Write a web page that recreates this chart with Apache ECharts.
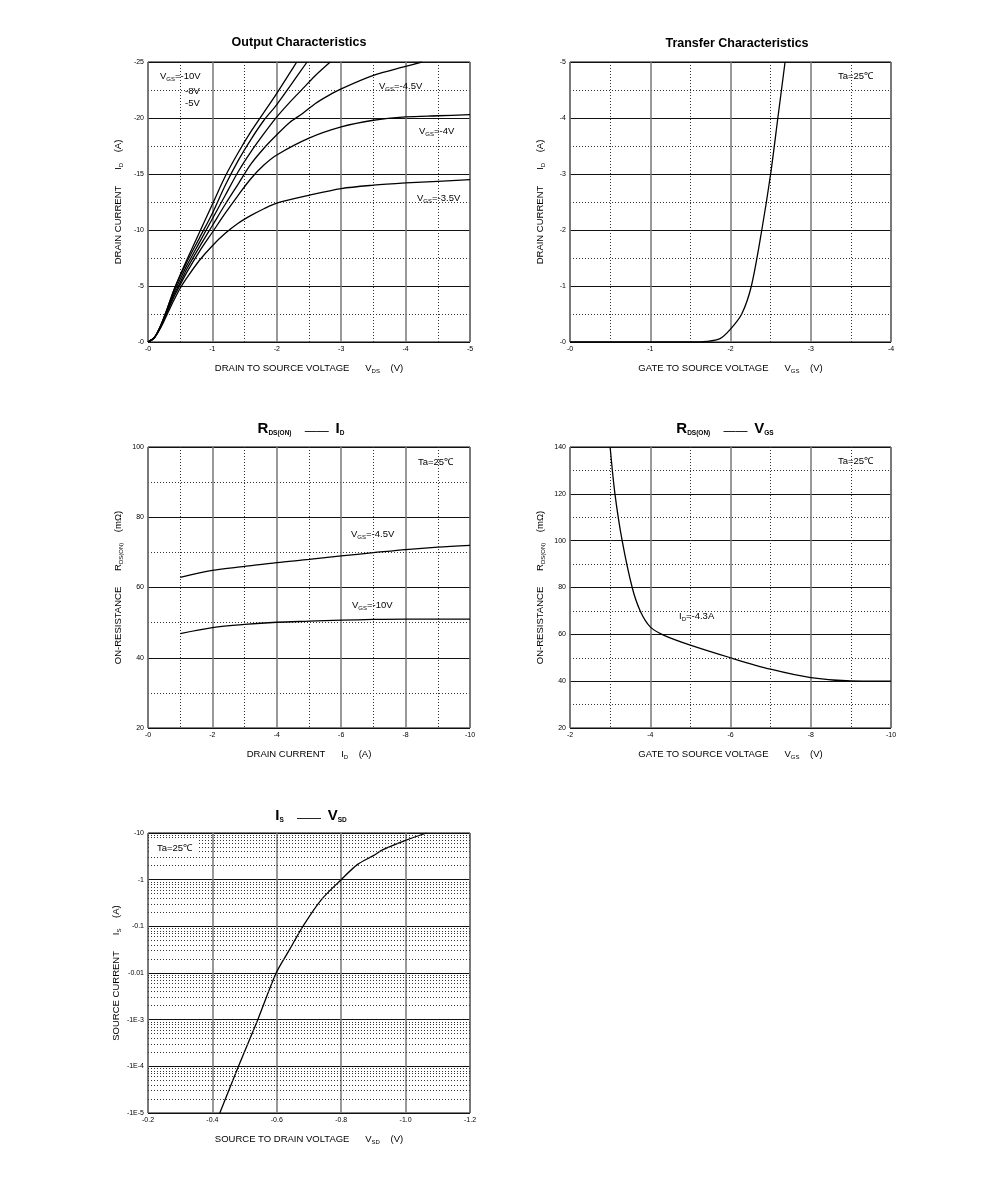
<!DOCTYPE html>
<html>
<head>
<meta charset="utf-8">
<title>MOSFET characteristics</title>
<script src="https://cdn.jsdelivr.net/npm/echarts@6/dist/echarts.min.js"></script>
<style>html,body{margin:0;background:#fff}</style>
</head>
<body>
<div id="main" style="width:991px;height:1186px"></div>
<script>
// output characteristics (Id vs Vds), one pair of arrays per Vgs curve
var vds10 = [0, -0.1, -0.2, -0.3, -0.4, -0.5, -0.6, -0.8, -1.0, -1.2, -1.4, -1.6, -1.8, -2.0, -2.2, -2.31];
var id10  = [0, -0.4, -1.5, -3.0, -4.6, -6.0, -7.3, -9.8, -12.3, -14.8, -16.9, -18.8, -20.5, -22.2, -24.0, -25];
var vds8  = [0, -0.1, -0.2, -0.3, -0.4, -0.5, -0.6, -0.8, -1.0, -1.2, -1.4, -1.6, -1.8, -2.0, -2.2, -2.47];
var id8   = [0, -0.4, -1.5, -3.0, -4.6, -5.9, -7.1, -9.3, -11.5, -14.0, -16.2, -18.1, -19.8, -21.2, -22.8, -25];
var vds5  = [0, -0.1, -0.2, -0.3, -0.4, -0.5, -0.6, -0.8, -1.0, -1.2, -1.4, -1.6, -1.8, -2.0, -2.2, -2.4, -2.6, -2.83];
var id5   = [0, -0.4, -1.5, -2.9, -4.4, -5.6, -6.8, -8.9, -11.0, -13.1, -15.2, -17.0, -18.6, -20.1, -21.4, -22.6, -23.8, -25];
var vds45 = [0, -0.1, -0.2, -0.3, -0.4, -0.5, -0.6, -0.8, -1.0, -1.2, -1.4, -1.6, -1.8, -2.0, -2.2, -2.4, -2.6, -2.8, -3.0, -3.5, -4.0, -4.25];
var id45  = [0, -0.4, -1.4, -2.8, -4.2, -5.3, -6.5, -8.5, -10.4, -12.3, -14.1, -15.9, -17.3, -18.5, -19.6, -20.4, -21.3, -22.0, -22.6, -23.8, -24.6, -25];
var vds4  = [0, -0.1, -0.2, -0.3, -0.4, -0.5, -0.6, -0.8, -1.0, -1.2, -1.4, -1.6, -1.8, -2.0, -2.5, -3.0, -3.5, -4.0, -4.5, -5.0];
var id4   = [0, -0.4, -1.4, -2.7, -4.0, -5.1, -6.2, -8.1, -9.8, -11.5, -13.1, -14.6, -15.8, -16.7, -18.2, -19.2, -19.8, -20.1, -20.2, -20.3];
var vds35 = [0, -0.1, -0.2, -0.3, -0.4, -0.5, -0.6, -0.8, -1.0, -1.2, -1.4, -1.6, -1.8, -2.0, -2.5, -3.0, -3.5, -4.0, -4.5, -5.0];
var id35  = [0, -0.4, -1.3, -2.5, -3.7, -4.8, -5.7, -7.3, -8.6, -9.7, -10.6, -11.3, -11.9, -12.4, -13.1, -13.7, -14.0, -14.2, -14.35, -14.5];

// transfer characteristics (Id vs Vgs)
var vgsT = [0, -1.0, -1.5, -1.7, -1.87, -2.0, -2.14, -2.26, -2.39, -2.5, -2.59, -2.68];
var idT  = [0, 0, 0, -0.01, -0.06, -0.23, -0.5, -1.0, -2.0, -3.0, -4.0, -5.0];

// on-resistance vs drain current
var idR = [-1, -2, -3, -4, -5, -6, -7, -8, -9, -10];
var r45 = [62.9, 64.9, 66.0, 67.1, 68.0, 69.0, 69.9, 70.8, 71.5, 72.0];
var r10 = [46.9, 48.6, 49.5, 50.1, 50.4, 50.7, 50.9, 51.0, 51.0, 51.0];

// on-resistance vs gate voltage
var vgsR = [-3.0, -3.12, -3.3, -3.55, -3.75, -4.0, -4.33, -5, -6, -7, -8, -9, -10];
var rV   = [140, 120, 100, 80, 70, 63.2, 59.7, 55.4, 50, 45.1, 41.5, 40.1, 40];

// body diode: |Is| on a log axis vs Vsd
var vsd   = [-0.423, -0.481, -0.541, -0.598, -0.64, -0.681, -0.738, -0.80, -0.85, -0.90, -0.93, -1.0, -1.065];
var isMag = [1e-5, 1e-4, 1e-3, 1e-2, 0.032, 0.1, 0.37, 1.0, 2.1, 3.27, 4.4, 6.96, 10];
var isLabels = ['-1E-5', '-1E-4', '-1E-3', '-0.01', '-0.1', '-1', '-10'];

var FONT = '"Liberation Sans", Arial, sans-serif';

function zip(xs, ys) {
  return xs.map(function (x, i) { return [x, ys[i]]; });
}

var rich = {
  n:  {fontSize: 9.5, fontFamily: FONT, color: '#000', fill: '#000'},
  s:  {fontSize: 6, fontFamily: FONT, color: '#000', fill: '#000', padding: [6, 0, 0, 0]},
  b:  {fontSize: 15, fontFamily: FONT, fontWeight: 'bold', color: '#000', fill: '#000'},
  bs: {fontSize: 6.5, fontFamily: FONT, fontWeight: 'bold', color: '#000', fill: '#000', padding: [9, 0, 0, 0]},
  d:  {fontSize: 12, fontFamily: FONT, color: '#000', fill: '#000', padding: [5, 0, 0, 0]}
};

function minusZero(v) { return v === 0 ? '-0' : String(v); }

function axis(grid, isX, min, max, step, fmt, name, gap, extra) {
  var a = {
    gridIndex: grid, type: 'value', min: min, max: max, interval: step,
    inverse: true,
    name: name, nameLocation: 'middle', nameGap: gap,
    nameRotate: isX ? 0 : 90,
    nameTextStyle: {rich: rich, fontSize: 9.5, fontFamily: FONT, color: '#000'},
    axisLine: {show: false},
    axisTick: {show: false},
    axisLabel: {formatter: fmt, fontSize: 7, fontFamily: FONT, color: '#000', margin: 4},
    splitLine: {show: true, lineStyle: isX ? {color: '#777', width: 1.5} : {color: '#111', width: 1}},
    minorTick: {show: false, splitNumber: 2},
    minorSplitLine: {show: true, lineStyle: {color: '#333', width: 1, type: [1, 2]}}
  };
  return Object.assign(a, extra || {});
}

function curve(xi, x, y) {
  return {
    type: 'line', xAxisIndex: xi, yAxisIndex: xi,
    data: zip(x, y), showSymbol: false, smooth: 0.3, silent: true,
    lineStyle: {color: '#000', width: 1.3}
  };
}

function txt(x, y, text, extra) {
  return {
    type: 'text', x: x, y: y, z: 100, silent: true,
    style: Object.assign({
      text: text, rich: rich, fill: '#000',
      fontSize: 9.5, fontFamily: FONT, align: 'left', verticalAlign: 'middle'
    }, extra || {})
  };
}

var xNameVds = '{n|DRAIN TO SOURCE VOLTAGE      V}{s|DS}{n|    (V)}';
var xNameVgs = '{n|GATE TO SOURCE VOLTAGE      V}{s|GS}{n|    (V)}';
var xNameId  = '{n|DRAIN CURRENT      I}{s|D}{n|    (A)}';
var xNameVsd = '{n|SOURCE TO DRAIN VOLTAGE      V}{s|SD}{n|    (V)}';
var yNameId  = '{n|DRAIN CURRENT      I}{s|D}{n|    (A)}';
var yNameR   = '{n|ON-RESISTANCE      R}{s|DS(ON)}{n|    (mΩ)}';
var yNameIs  = '{n|SOURCE CURRENT      I}{s|S}{n|    (A)}';

// minor log gridlines at 2..9 of every decade
var logMinor = [];
for (var d = -5; d < 1; d++) {
  for (var k = 2; k <= 9; k++) logMinor.push({yAxis: k * Math.pow(10, d)});
}

var gridBase = {show: true, borderColor: '#000', borderWidth: 1, backgroundColor: 'transparent'};

var option = {
  animation: false,
  backgroundColor: '#fff',
  grid: [
    Object.assign({left: 148, top: 62, width: 322, height: 280}, gridBase),
    Object.assign({left: 570, top: 62, width: 321, height: 280}, gridBase),
    Object.assign({left: 148, top: 447, width: 322, height: 281}, gridBase),
    Object.assign({left: 570, top: 447, width: 321, height: 281}, gridBase),
    Object.assign({left: 148, top: 833, width: 322, height: 280}, gridBase)
  ],
  xAxis: [
    axis(0, true, -5, 0, 1, minusZero, xNameVds, 20),
    axis(1, true, -4, 0, 1, minusZero, xNameVgs, 20),
    axis(2, true, -10, 0, 2, minusZero, xNameId, 20),
    axis(3, true, -10, -2, 2, minusZero, xNameVgs, 20),
    axis(4, true, -1.2, -0.2, 0.2, function (v) { return v.toFixed(1); }, xNameVsd, 20,
      {minorSplitLine: {show: false}})
  ],
  yAxis: [
    axis(0, false, -25, 0, 5, minusZero, yNameId, 24),
    axis(1, false, -5, 0, 1, minusZero, yNameId, 24),
    axis(2, false, 20, 100, 20, null, yNameR, 24, {inverse: false}),
    axis(3, false, 20, 140, 20, null, yNameR, 24, {inverse: false}),
    axis(4, false, 1e-5, 10, null, function (v) {
      return isLabels[Math.round(Math.log10(v)) + 5];
    }, yNameIs, 26, {type: 'log', logBase: 10, inverse: false, splitNumber: 6,
      interval: undefined, minorSplitLine: {show: false}})
  ],
  series: [
    curve(0, vds10, id10),
    curve(0, vds8, id8),
    curve(0, vds5, id5),
    curve(0, vds45, id45),
    curve(0, vds4, id4),
    curve(0, vds35, id35),
    curve(1, vgsT, idT),
    curve(2, idR, r45),
    curve(2, idR, r10),
    curve(3, vgsR, rV),
    Object.assign(curve(4, vsd, isMag), {
      markLine: {
        silent: true, symbol: 'none', label: {show: false}, precision: 12,
        lineStyle: {color: '#333', width: 1, type: [1, 2]},
        data: logMinor
      }
    })
  ],
  graphic: [
    txt(299, 43, 'Output Characteristics', {align: 'center', fontSize: 12.5, fontWeight: 'bold', rich: null}),
    txt(737, 44, 'Transfer Characteristics', {align: 'center', fontSize: 12.5, fontWeight: 'bold', rich: null}),
    txt(301, 429, '{b|R}{bs|DS(ON)}{d|    ——  }{b|I}{bs|D}', {align: 'center'}),
    txt(725, 429, '{b|R}{bs|DS(ON)}{d|    ——  }{b|V}{bs|GS}', {align: 'center'}),
    txt(311, 816, '{b|I}{bs|S}{d|    ——  }{b|V}{bs|SD}', {align: 'center'}),

    txt(160, 76, '{n|V}{s|GS}{n|=-10V}'),
    txt(185, 91, '-8V'),
    txt(185, 103, '-5V'),
    txt(379, 86, '{n|V}{s|GS}{n|=-4.5V}'),
    txt(419, 131, '{n|V}{s|GS}{n|=-4V}'),
    txt(417, 198, '{n|V}{s|GS}{n|=-3.5V}'),

    txt(838, 76, 'Ta=25℃'),

    txt(418, 462, 'Ta=25℃'),
    txt(351, 534, '{n|V}{s|GS}{n|=-4.5V}'),
    txt(352, 605, '{n|V}{s|GS}{n|=-10V}'),

    txt(838, 461, 'Ta=25℃'),
    txt(679, 616, '{n|I}{s|D}{n|=-4.3A}'),

    txt(151, 848, 'Ta=25℃', {backgroundColor: '#fff', padding: [4, 6, 4, 6]})
  ]
};

var chart = echarts.init(document.getElementById('main'));
chart.setOption(option);
</script>
</body>
</html>
